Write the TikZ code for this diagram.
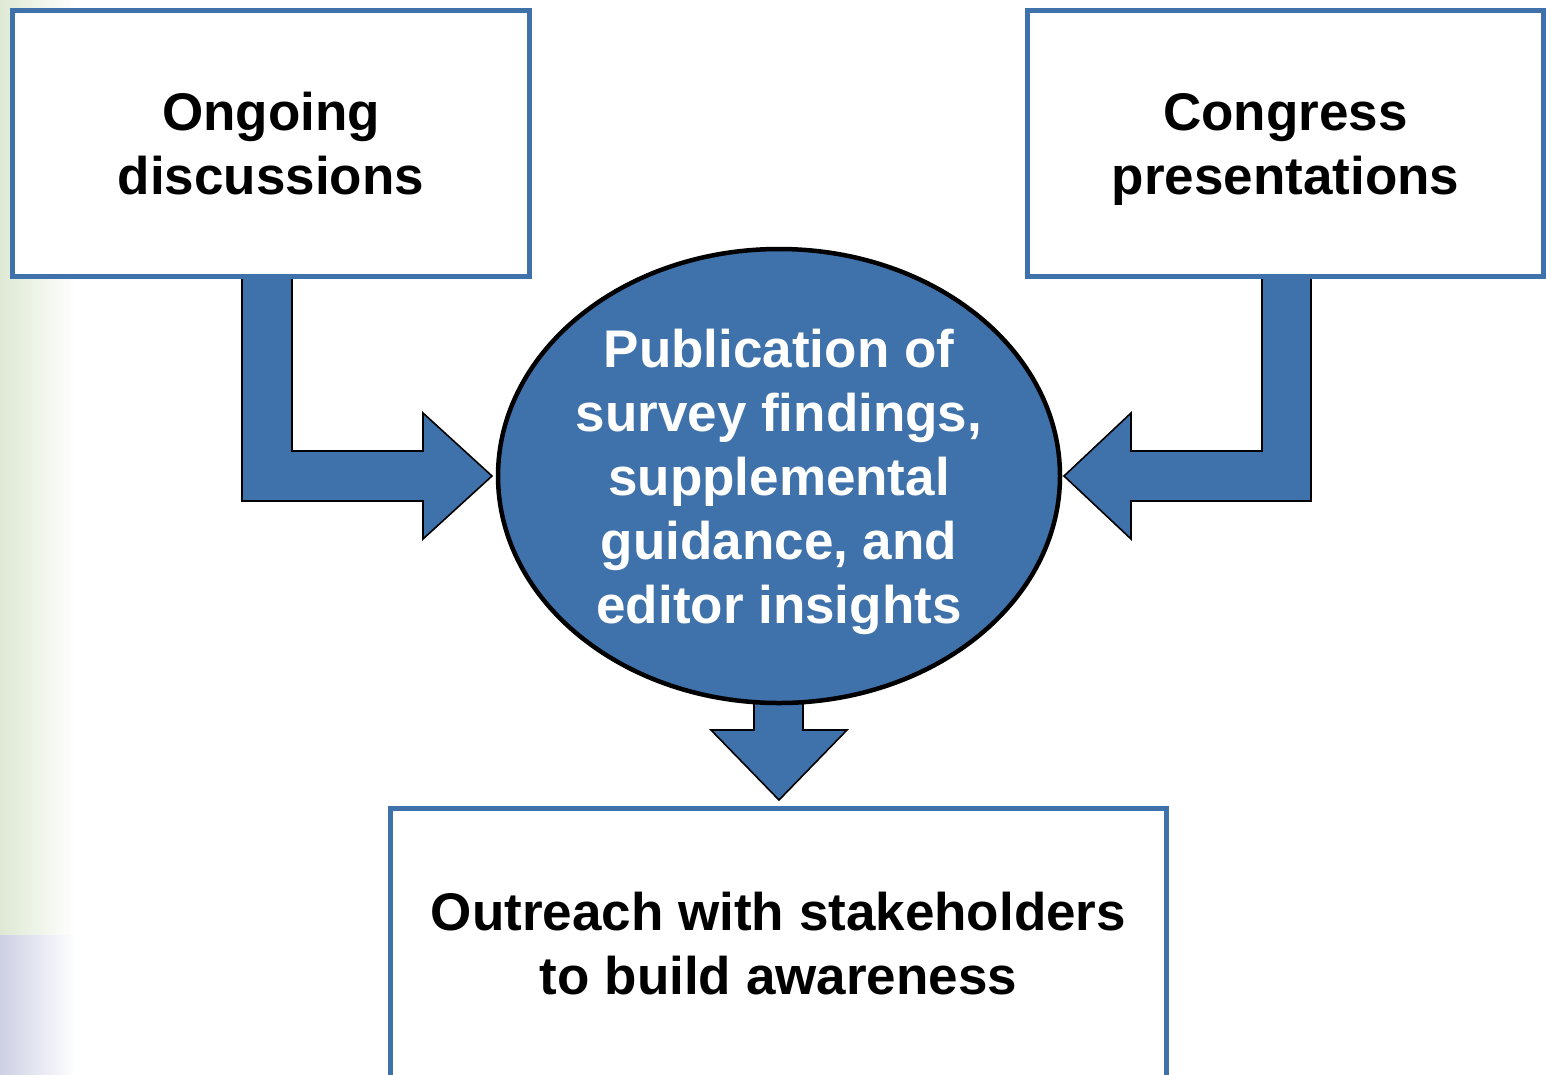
\documentclass[tikz,border=0pt]{standalone}
\usepackage{fontspec}
\setmainfont{Liberation Sans}
\usetikzlibrary{shapes.geometric}
\definecolor{boxblue}{RGB}{63,114,171}
\definecolor{edgegreen}{RGB}{222,233,212}
\definecolor{edgelav}{RGB}{205,208,228}
\begin{document}
\begin{tikzpicture}[x=1pt,y=-1pt,
  bigtext/.style={font=\fontsize{53}{64}\selectfont\bfseries, align=center, inner sep=0pt},
  textbox/.style={draw=boxblue, line width=5pt, fill=white, inner sep=0pt},
  blockarrow/.style={fill=boxblue, draw=black, line width=1.6pt, line join=miter},
  hub/.style={ellipse, draw=black, line width=4.5pt, fill=boxblue, inner sep=0pt}]
\useasboundingbox (0,0) rectangle (1546,1074);
% faint slide background at the left edge
\shade[left color=edgegreen, right color=white] (0,0) rectangle (76,935);
\shade[left color=edgelav, right color=white] (0,935) rectangle (76,1074);
% block arrows
\draw[blockarrow] (242,270) -- (242,501) -- (423,501) -- (423,539) -- (492,476) -- (423,413) -- (423,451) -- (292,451) -- (292,270);
\draw[blockarrow] (1311,270) -- (1311,501) -- (1131,501) -- (1131,539) -- (1064,476) -- (1131,413) -- (1131,451) -- (1262,451) -- (1262,270);
\draw[blockarrow] (754,690) -- (754,730) -- (711,730) -- (779,800) -- (847,730) -- (803,730) -- (803,690);
% boxes
\node[textbox, minimum width=517pt, minimum height=266pt] (ongoing) at (271,143.5) {};
\node[bigtext] (ongoingtext) at (271,149.5) {\strut Ongoing\\\strut discussions};
\node[textbox, minimum width=516pt, minimum height=266pt] (congress) at (1285.5,143.5) {};
\node[bigtext] (congresstext) at (1285.5,149.5) {\strut Congress\\\strut presentations};
\node[textbox, minimum width=776pt, minimum height=272pt] (outreach) at (778.5,944.5) {};
\node[bigtext] (outreachtext) at (778.5,949.2) {\strut Outreach with stakeholders\\\strut to build awareness};
% central ellipse
\node[hub, minimum width=562pt, minimum height=454pt] (pub) at (779,476) {};
\node[bigtext, text=white] (pubtext) at (779,482.7) {\strut Publication of\\\strut survey findings,\\\strut supplemental\\\strut guidance, and\\\strut editor insights};
\end{tikzpicture}
\end{document}
